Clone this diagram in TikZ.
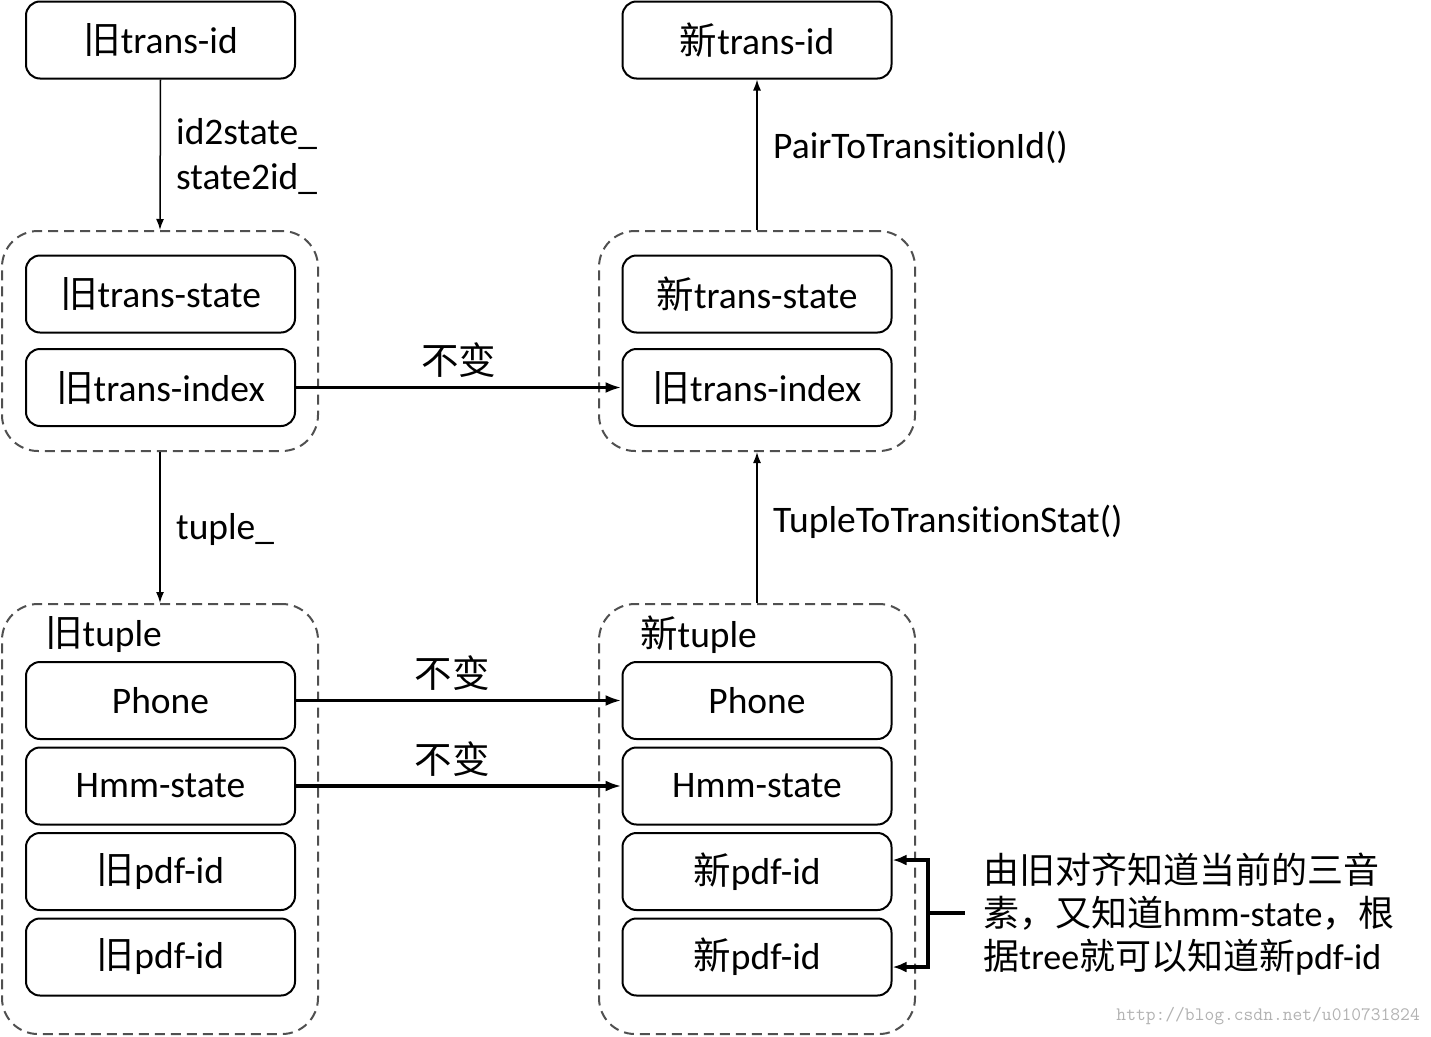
\documentclass[tikz,border=0pt]{standalone}
\usepackage{fontspec}
\setmainfont{Carlito}[Ligatures=NoCommon]
\newfontfamily\zhfont{Noto Sans CJK SC}
\newcommand\zh[1]{{\zhfont #1}}
\usetikzlibrary{arrows.meta}
\definecolor{dashgray}{HTML}{505050}
\begin{document}
\begin{tikzpicture}[x=1pt,y=-1pt,
  every node/.style={font=\fontsize{37.5}{43}\selectfont},
  bx/.style={draw,line width=2pt,rounded corners=14pt,minimum width=269pt,minimum height=77pt,inner sep=0pt},
  grp/.style={draw=dashgray,line width=2pt,dash pattern=on 10pt off 6pt,rounded corners=36pt,minimum width=316pt,inner sep=0pt},
  thin/.style={line width=1.5pt,-{Latex[length=11pt,width=8pt]}},
  thickarr/.style={line width=3.5pt,-{Latex[length=16pt,width=11pt]}},
  lbl/.style={anchor=west,inner sep=0pt}
]
\useasboundingbox (0,0) rectangle (1431,1036);
% groups
\node[grp,minimum height=220pt] (g1) at (160,341) {};
\node[grp,minimum height=220pt] (g2) at (757,341) {};
\node[grp,minimum height=430pt] (g3) at (160,819) {};
\node[grp,minimum height=430pt] (g4) at (757,819) {};
% top boxes
\node[bx] (oid) at (160.5,40) {\zh{旧}trans-id};
\node[bx] (nid) at (757,40) {\zh{新}trans-id};
\node[bx] (ots) at (160.5,294) {\zh{旧}trans-state};
\node[bx] (oti) at (160.5,387.5) {\zh{旧}trans-index};
\node[bx] (nts) at (757,294) {\zh{新}trans-state};
\node[bx] (nti) at (757,387.5) {\zh{旧}trans-index};
% tuple boxes
\node[bx] (oph) at (160.5,700.5) {Phone};
\node[bx] (ohm) at (160.5,786) {Hmm-state};
\node[bx] (op1) at (160.5,871.5) {\zh{旧}pdf-id};
\node[bx] (op2) at (160.5,957) {\zh{旧}pdf-id};
\node[bx] (nph) at (757,700.5) {Phone};
\node[bx] (nhm) at (757,786) {Hmm-state};
\node[bx] (np1) at (757,871.5) {\zh{新}pdf-id};
\node[bx] (np2) at (757,957) {\zh{新}pdf-id};
% group labels
\node[lbl] (l3) at (45,635) {\zh{旧}tuple};
\node[lbl] (l4) at (640,635) {\zh{新}tuple};
% vertical connectors
\draw[thin] (oid.south) -- (g1.north);
\draw[thin] (g1.south) -- (g3.north);
\draw[thin] (g2.north) -- (nid.south);
\draw[thin] (g4.north) -- (g2.south);
\node[lbl] (t1) at (176,134) {id2state\_};
\node[lbl] (t2) at (176,179) {state2id\_};
\node[lbl] (t3) at (176,529) {tuple\_};
\node[lbl] (t4) at (773,147) {PairToTransitionId()};
\node[lbl] (t5) at (773,522) {TupleToTransitionStat()};
% horizontal thick arrows
\draw[thickarr] (oti.east) -- (nti.west) node[midway,above=8pt,inner sep=0pt] {\zh{不变}};
\draw[thickarr] (oph.east) -- (nph.west) node[pos=0.48,above=8pt,inner sep=0pt] {\zh{不变}};
\draw[thickarr] (ohm.east) -- (nhm.west) node[pos=0.48,above=8pt,inner sep=0pt] {\zh{不变}};
% bracket
\coordinate (bk1) at (928,860);
\coordinate (bk2) at (928,967);
\coordinate (bkm) at (928,913);
\coordinate (bks) at (965,913);
\draw[line width=4pt,{Latex[length=14pt,width=11pt]}-{Latex[length=14pt,width=11pt]}] (bk1 -| np1.east) -- (bk1) -- (bk2) -- (bk2 -| np2.east);
\draw[line width=4pt] (bkm) -- (bks);
\node[anchor=north west,inner sep=0pt,align=left,font=\fontsize{36}{43}\selectfont] (note) at (983,853)
  {\zh{由旧对齐知道当前的三音}\\\zh{素，又知道}hmm-state\zh{，根}\\\zh{据}tree\zh{就可以知道新}pdf-id};
\node[anchor=east,inner sep=0pt,font=\fontsize{19}{22}\ttfamily,text=black!30] (wm) at (1420,1016) {http://blog.csdn.net/u010731824};
\end{tikzpicture}
\end{document}
